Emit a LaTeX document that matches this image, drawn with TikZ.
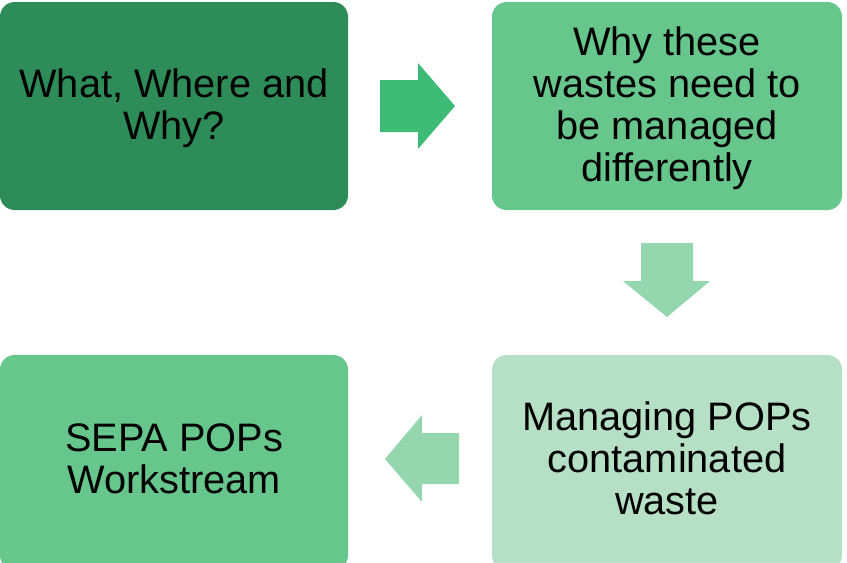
\documentclass[tikz,border=0pt]{standalone}
\usepackage{fontspec}
\setmainfont{Liberation Sans}
\definecolor{gA}{HTML}{2E8C58}
\definecolor{gB}{HTML}{66C68B}
\definecolor{gC}{HTML}{B5E0C5}
\definecolor{arR}{HTML}{3DBB77}
\definecolor{arD}{HTML}{94D6AD}
\begin{document}
\begin{tikzpicture}[x=0.75pt,y=-0.75pt,
  box/.style={rounded corners=11pt, inner sep=0pt},
  lbl/.style={align=center, font=\fontsize{29.8}{31.4}\selectfont, text=black, inner sep=0pt}]
\useasboundingbox (0,0) rectangle (847,562);
% boxes
\fill[box, gA] (0,2) rectangle (348,210);
\fill[box, gB] (492,2) rectangle (842,210);
\fill[box, gC] (492,355) rectangle (842,570);
\fill[box, gB] (0,355) rectangle (348,570);
\node[lbl] (t1) at (174,108) {What, Where and\\Why?};
\node[lbl] (t2) at (667,108) {Why these\\wastes need to\\be managed\\differently};
\node[lbl] (t3) at (667,458) {Managing POPs\\contaminated\\waste};
\node[lbl] (t4) at (174,459) {SEPA POPs\\Workstream};
% arrows
\fill[arR] (380,80) -- (418,80) -- (418,63) -- (455,106) -- (418,149) -- (418,132) -- (380,132) -- cycle;
\fill[arD] (641,243) -- (693,243) -- (693,281) -- (710,281) -- (667,317) -- (623,281) -- (641,281) -- cycle;
\fill[arD] (459,433) -- (422,433) -- (422,415) -- (385,459) -- (422,502) -- (422,484) -- (459,484) -- cycle;
\end{tikzpicture}
\end{document}
